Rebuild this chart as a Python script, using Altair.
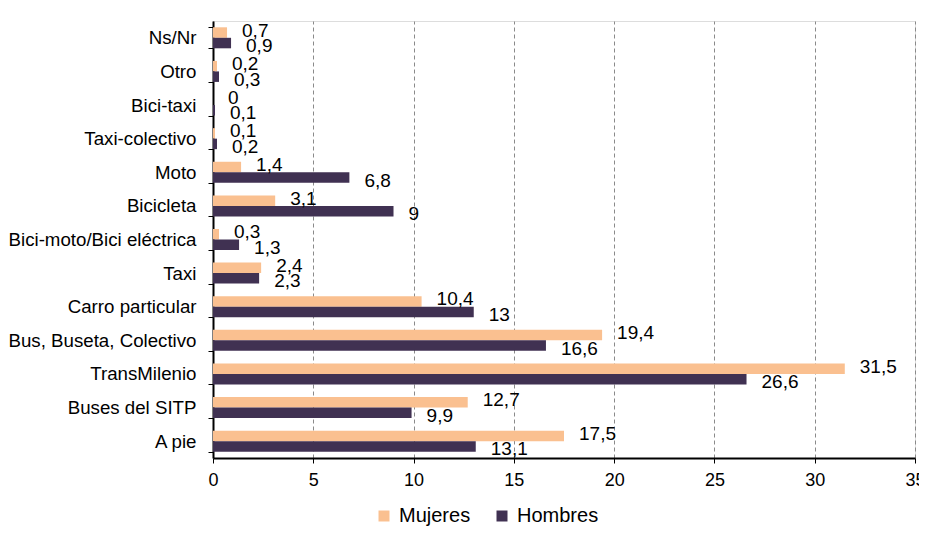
import altair as alt
import pandas as pd

categorias = ["Ns/Nr", "Otro", "Bici-taxi", "Taxi-colectivo", "Moto", "Bicicleta",
              "Bici-moto/Bici eléctrica", "Taxi", "Carro particular",
              "Bus, Buseta, Colectivo", "TransMilenio", "Buses del SITP", "A pie"]
mujeres = [0.7, 0.2, 0, 0.1, 1.4, 3.1, 0.3, 2.4, 10.4, 19.4, 31.5, 12.7, 17.5]
hombres = [0.9, 0.3, 0.1, 0.2, 6.8, 9, 1.3, 2.3, 13, 16.6, 26.6, 9.9, 13.1]
series = ["Mujeres", "Hombres"]
colores = ["#FAC090", "#403152"]
x_ticks = [0, 5, 10, 15, 20, 25, 30, 35]

rows = []
for c, m, h in zip(categorias, mujeres, hombres):
    rows.append({"modo": c, "sexo": "Mujeres", "valor": m})
    rows.append({"modo": c, "sexo": "Hombres", "valor": h})
df = pd.DataFrame(rows)

FONT = "Liberation Sans"

base = alt.Chart(df).encode(
    y=alt.Y("modo:N", sort=categorias, title=None,
            scale=alt.Scale(paddingInner=0.375, paddingOuter=0.1875),
            axis=alt.Axis(labelFontSize=18.7, labelFont=FONT, labelColor="black",
                          labelPadding=12, tickBand="extent", tickSize=5,
                          tickColor="black", domainColor="black", domainWidth=2,
                          grid=False, labelLimit=300)),
    yOffset=alt.YOffset("sexo:N", sort=series, scale=alt.Scale(paddingInner=0, paddingOuter=0)),
)

bars = base.mark_bar().encode(
    x=alt.X("valor:Q", title=None,
            scale=alt.Scale(domain=[0, 35], nice=False),
            axis=alt.Axis(values=x_ticks, grid=True, gridDash=[4, 3], gridColor="#8a8a8a",
                          gridWidth=1, domainColor="black", domainWidth=2,
                          tickColor="black", tickSize=5, labelFontSize=18, labelFont=FONT,
                          labelColor="black", labelPadding=8, labelFlush=False,
                          labelOverlap=False)),
    color=alt.Color("sexo:N", sort=series,
                    scale=alt.Scale(domain=series, range=colores),
                    legend=alt.Legend(title=None, orient="none", legendX=161, legendY=485,
                                      direction="horizontal", symbolType="square",
                                      symbolSize=121, symbolStrokeWidth=0,
                                      labelFontSize=20, labelFont=FONT, labelColor="black",
                                      columnPadding=21, labelOffset=5)),
)


def etiquetas(sexo, dy):
    return base.mark_text(align="left", baseline="middle", dx=15, dy=dy, fontSize=19,
                          font=FONT, color="black").transform_filter(
        alt.datum.sexo == sexo
    ).transform_calculate(
        etiqueta="replace(format(datum.valor, '~g'), '.', ',')"
    ).encode(
        x=alt.X("valor:Q"),
        text=alt.Text("etiqueta:N"),
    )


chart = alt.layer(bars, etiquetas("Mujeres", -2), etiquetas("Hombres", 3)).properties(
    width=702, height=437,
    padding={"left": 205, "top": 13, "right": 4, "bottom": 71},
    autosize=alt.AutoSizeParams(type="none"),
).configure_view(stroke=None).configure(background="white")

chart.save("out.html", embed_options={"renderer": "svg", "actions": False})
